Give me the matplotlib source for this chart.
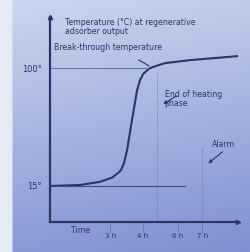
import matplotlib
matplotlib.use("Agg")
import matplotlib.pyplot as plt
import numpy as np

# temperature curve at adsorber output (time in arbitrary units, temperature in degC)
time = [0, 1.6, 2.66, 3.3, 3.62, 3.78, 3.94, 4.1, 4.36, 4.63, 4.79, 4.95, 5.11,
        5.32, 5.69, 6.1, 7.45, 10.0]
temp = [15, 15.7, 18, 21, 24.4, 26.5, 31.6, 40.9, 62.4, 84, 91.4, 95.7, 97.8,
        100, 101.8, 103.6, 105.8, 108.7]

tick_pos = [3.2, 4.95, 6.8, 8.1]
tick_labels = ["3 h", "4 h", "6 h", "7 h"]
breakthrough = 100
start_temp = 15
end_heating = 5.7
alarm = 8.1

ink = "#2b3566"
fig = plt.figure(figsize=(2.5, 2.52), dpi=100)

# background: photo-like blue gradient
bg = fig.add_axes([0, 0, 1, 1])
yy = np.linspace(0, 1, 100)[:, None]
xx = np.linspace(0, 1, 100)[None, :]
top = np.array([0.80, 0.84, 0.94])
bot = np.array([0.50, 0.56, 0.82])
g = (yy * 0.85 + xx * 0.15)[..., None]
img = top * (1 - g) + bot * g
img[:, :5] = np.array([0.90, 0.92, 0.96])
bg.imshow(img, aspect="auto", extent=[0, 1, 0, 1])
bg.axis("off")

ax = fig.add_axes([0.2, 0.119, 0.752, 0.814])
ax.patch.set_alpha(0)
ax.set_xlim(0, 10)
ax.set_ylim(-11, 137)
for s in ["top", "right"]:
    ax.spines[s].set_visible(False)
for s in ["left", "bottom"]:
    ax.spines[s].set_color(ink)
    ax.spines[s].set_linewidth(1.6)
ax.plot(0, 1, "^", color=ink, ms=3, transform=ax.transAxes, clip_on=False)
ax.plot(1, 0, ">", color=ink, ms=3, transform=ax.transAxes, clip_on=False)

ax.plot(time, temp, color=ink, lw=1.5, solid_joinstyle="round")
ax.plot([0, 5.2], [breakthrough, breakthrough], color="#6a78a8", lw=0.8)
ax.plot([0, 7.2], [start_temp, start_temp], color="#3e4a80", lw=0.8)
ax.plot([end_heating, end_heating], [-11, 97], color="#6a78a8", lw=0.7, ls=(0, (1, 1.5)))
ax.plot([alarm, alarm], [-11, 43], color="#6a78a8", lw=0.7, ls=(0, (1, 1.5)))

ax.set_xticks(tick_pos)
ax.set_xticklabels(tick_labels, fontsize=5, color=ink)
ax.tick_params(axis="x", length=7, width=0.6, color="#6a78a8", pad=1)
ax.set_yticks([start_temp, breakthrough])
ax.set_yticklabels(["15°", "100°"], fontsize=6, color=ink)
ax.tick_params(axis="y", length=0, pad=6)

ax.text(0.8, 136, "Temperature (°C) at regenerative\nadsorber output", fontsize=5.6,
        color=ink, va="top", linespacing=1.0)
ax.text(0.2, 115, "Break-through temperature", fontsize=5.6, color=ink, va="center")
ax.annotate("", xy=(5.4, 100.5), xytext=(4.6, 107),
            arrowprops=dict(arrowstyle="-", color=ink, lw=0.8))
ax.text(6.1, 84, "End of heating\nphase", fontsize=5.6, color=ink, va="top", linespacing=1.0)
ax.annotate("", xy=(5.9, 73), xytext=(6.85, 81),
            arrowprops=dict(arrowstyle="-|>", color=ink, lw=0.8, mutation_scale=5))
ax.text(8.6, 45, "Alarm", fontsize=5.6, color=ink, va="center")
ax.annotate("", xy=(8.3, 30), xytext=(9.3, 41),
            arrowprops=dict(arrowstyle="-|>", color=ink, lw=0.8, mutation_scale=5))
ax.text(1.1, -14, "Time", fontsize=5.6, color=ink, va="top")

fig.savefig("out.png", dpi=100)
